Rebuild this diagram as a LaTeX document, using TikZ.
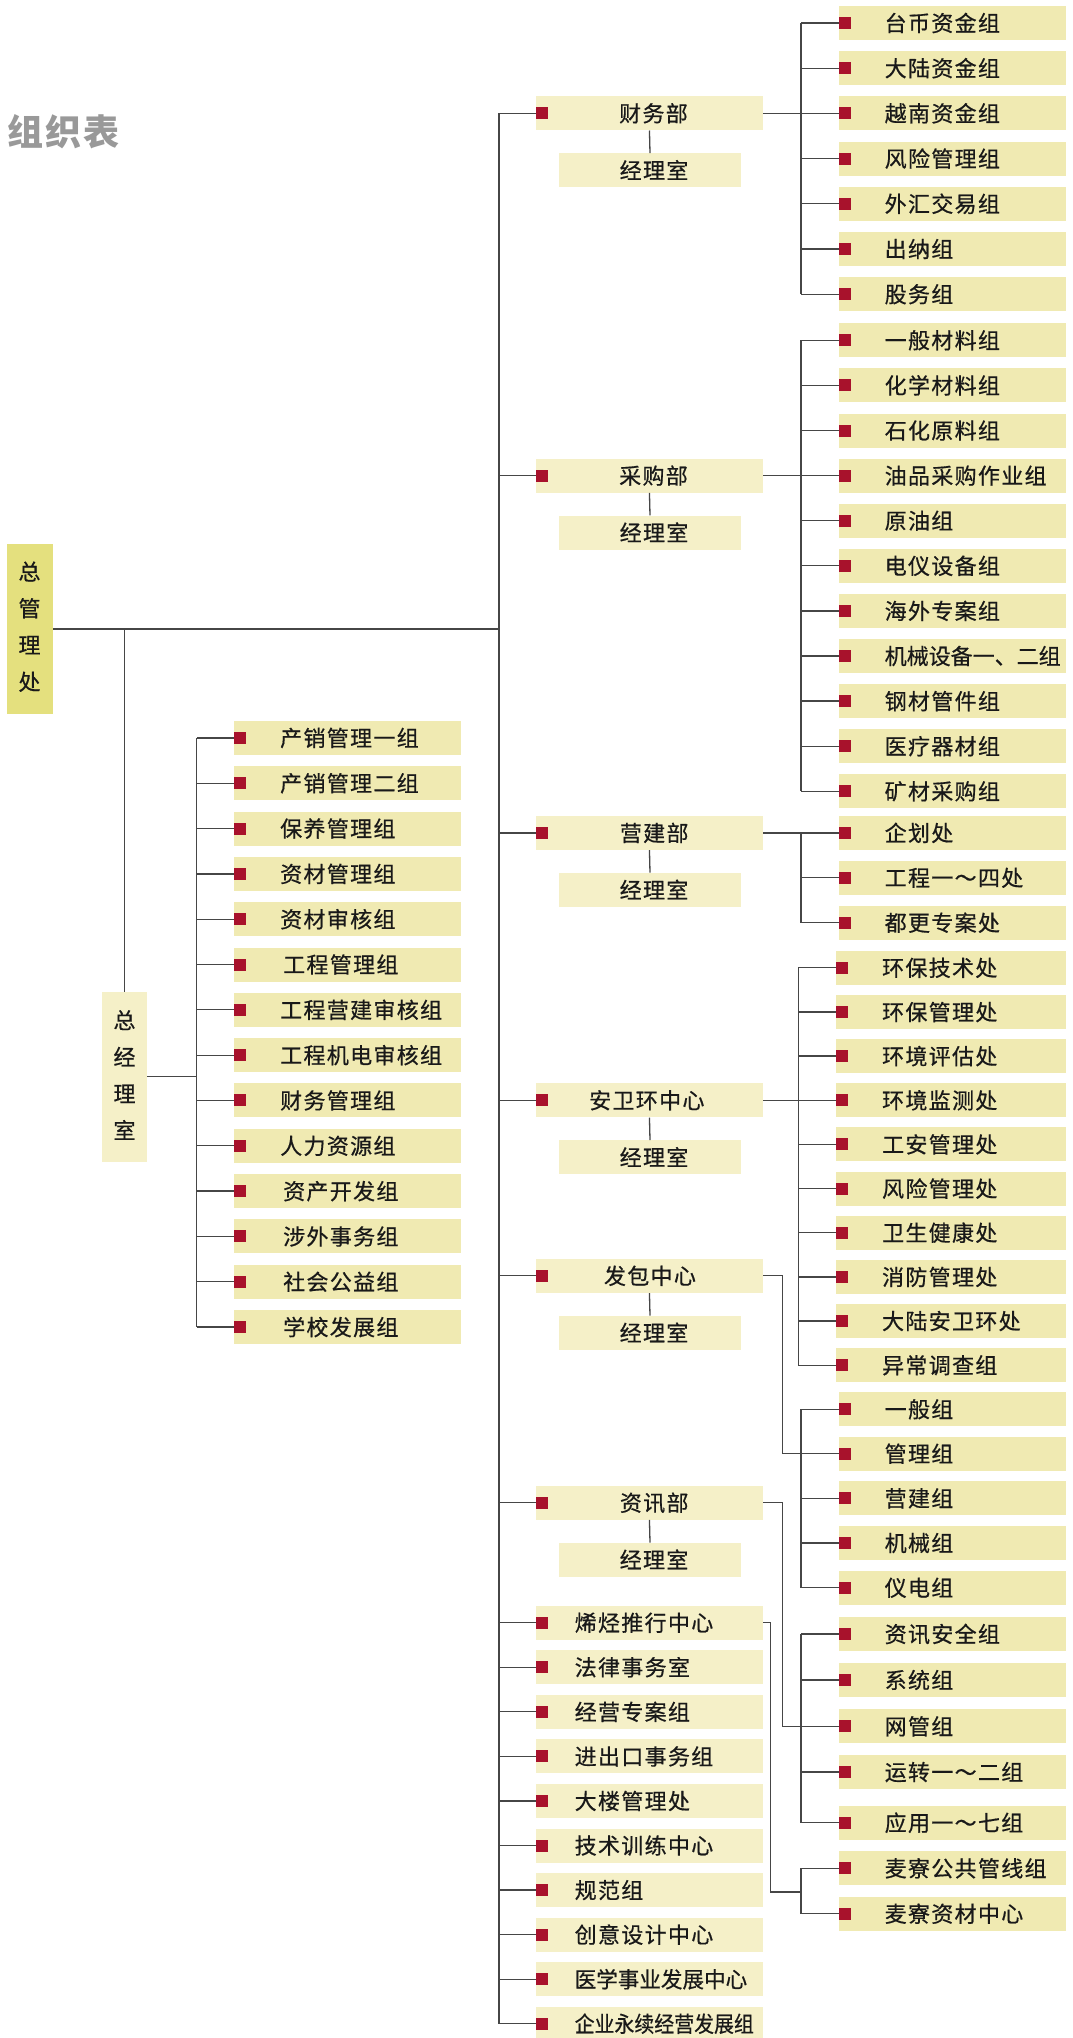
\documentclass[tikz,border=0pt]{standalone}
\usepackage{fontspec}
\usepackage{graphicx}
\newfontfamily\cjk{Noto Sans CJK SC}[LetterSpace=6,FakeBold=0.6]
\newfontfamily\cjkn{Noto Sans CJK SC}[FakeBold=0.6]
\newfontfamily\cjkt{Noto Sans CJK SC}[LetterSpace=5]
\definecolor{deptc}{RGB}{245,240,200}
\definecolor{itemc}{RGB}{240,234,178}
\definecolor{topc}{RGB}{228,224,126}
\definecolor{sqc}{RGB}{168,18,44}
\definecolor{titc}{RGB}{153,153,153}
\definecolor{linec}{RGB}{70,70,70}
\begin{document}
\begin{tikzpicture}[x=1pt,y=-1pt,
  ln/.style={draw=linec, line width=1.3pt},
  dbox/.style={fill=deptc, minimum width=227.5pt, minimum height=34pt, inner sep=0pt, anchor=west},
  sbox/.style={fill=deptc, minimum width=182pt, minimum height=34pt, inner sep=0pt},
  ibox/.style={fill=itemc, minimum width=227.5pt, minimum height=34pt, inner sep=0pt, anchor=west},
  lbox/.style={fill=itemc, minimum width=227pt, minimum height=34pt, inner sep=0pt, anchor=west},
  txt/.style={font=\cjk\fontsize{22}{26}\selectfont, text=black!90, inner sep=0pt, text height=18.3pt, text depth=1.5pt, anchor=west},
  vtxt/.style={font=\cjkn\fontsize{22}{36.7}\selectfont, text=black!90, inner sep=0pt, align=center},
  sq/.style={fill=sqc}]
\useasboundingbox[fill=white] (0,0) rectangle (1073,2038);

% title
\node[font=\cjkt\bfseries\fontsize{36}{40}\selectfont, text=titc, inner sep=0pt, anchor=west] (title) at (7.5,131.5) {组织表};

% top boxes
\node[fill=topc, minimum width=46pt, minimum height=170pt, inner sep=0pt] (zg) at (30,629) {};
\node[vtxt] (zgt) at (29.5,626.7) {总\\管\\理\\处};
\node[fill=deptc, minimum width=45pt, minimum height=170pt, inner sep=0pt] (zj) at (124.5,1076.7) {};
\node[vtxt] (zjt) at (124.5,1075) {总\\经\\理\\室};

% left group
\foreach \n/\t/\dx in {1/产销管理一组/46, 2/产销管理二组/46, 3/保养管理组/46, 4/资材管理组/46, 5/资材审核组/46, 6/工程管理组/49, 7/工程营建审核组/46, 8/工程机电审核组/46, 9/财务管理组/46, 10/人力资源组/46, 11/资产开发组/49, 12/涉外事务组/49, 13/社会公益组/49, 14/学校发展组/49} {
  \pgfmathsetmacro{\yy}{737.9+45.32*(\n-1)}
  \node[lbox] (l\n) at (234,\yy) {};
  \fill[sq] ([yshift=6pt]l\n.west) rectangle ++(12pt,-12pt);
  \node[txt] (lt\n) at ([xshift=\dx pt]l\n.west) {\t};
}

% departments with sub boxes
\foreach \n/\t/\y/\dx in {1/财务部/113.3/83.5, 2/采购部/475.6/83.5, 3/营建部/832.9/84.2, 4/安卫环中心/1100.3/53.5, 5/发包中心/1275.8/68.3, 6/资讯部/1502.7/84.2} {
  \node[dbox] (d\n) at (535.5,\y) {};
  \fill[sq] ([yshift=6pt]d\n.west) rectangle ++(12pt,-12pt);
  \node[txt] (dt\n) at ([xshift=\dx pt]d\n.west) {\t};
  \node[sbox] (s\n) at (650,\y+57) {};
  \node[txt] (st\n) at (619.5,\y+57) {经理室};
  \draw[ln] (d\n.south) -- (s\n.north);
}

% bottom list
\foreach \n/\t in {7/烯烃推行中心, 8/法律事务室, 9/经营专案组, 10/进出口事务组, 11/大楼管理处, 12/技术训练中心, 13/规范组, 14/创意设计中心} {
  \pgfmathsetmacro{\yy}{1622.7+44.56*(\n-7)}
  \node[dbox] (d\n) at (535.5,\yy) {};
  \fill[sq] ([yshift=6pt]d\n.west) rectangle ++(12pt,-12pt);
  \node[txt] (dt\n) at ([xshift=39pt]d\n.west) {\t};
}
\node[dbox] (d15) at (535.5,1979.2) {};
\fill[sq] ([yshift=6pt]d15.west) rectangle ++(12pt,-12pt);
\node[txt, font=\cjkn\fontsize{22}{26}\selectfont] (dt15) at ([xshift=39pt]d15.west) {\scalebox{0.98}[1]{医学事业发展中心}};
\node[dbox] (d16) at (535.5,2023.7) {};
\fill[sq] ([yshift=6pt]d16.west) rectangle ++(12pt,-12pt);
\node[txt, font=\cjkn\fontsize{22}{26}\selectfont] (dt16) at ([xshift=39pt]d16.west) {\scalebox{0.905}[1]{企业永续经营发展组}};

% right column
\foreach \n/\t/\y/\x in {1/台币资金组/23.0/838.5, 2/大陆资金组/68.2/838.5, 3/越南资金组/113.3/838.5, 4/风险管理组/158.6/838.5, 5/外汇交易组/203.8/838.5, 6/出纳组/249.0/838.5, 7/股务组/294.2/838.5,
  8/一般材料组/340.3/838.5, 9/化学材料组/385.4/838.5, 10/石化原料组/430.5/838.5, 11/油品采购作业组/475.6/838.5, 12/原油组/520.7/838.5, 13/电仪设备组/565.8/838.5, 14/海外专案组/610.9/838.5, 16/钢材管件组/701.1/838.5, 17/医疗器材组/746.2/838.5, 18/矿材采购组/791.3/838.5,
  19/企划处/832.9/838.5, 20/工程一～四处/877.7/838.5, 21/都更专案处/922.7/838.5,
  22/环保技术处/967.8/835.9, 23/环保管理处/1012.0/835.9, 24/环境评估处/1056.1/835.9, 25/环境监测处/1100.3/835.9, 26/工安管理处/1144.4/835.9, 27/风险管理处/1188.6/835.9, 28/卫生健康处/1232.7/835.9, 29/消防管理处/1276.9/835.9, 30/大陆安卫环处/1321.0/835.9, 31/异常调查组/1365.2/835.9,
  32/一般组/1409.3/838.5, 33/管理组/1453.7/838.5, 34/营建组/1498.3/838.5, 35/机械组/1543.0/838.5, 36/仪电组/1587.7/838.5,
  37/资讯安全组/1634.0/838.5, 38/系统组/1680.0/838.5, 39/网管组/1726.3/838.5, 40/运转一～二组/1772.0/838.5, 41/应用一～七组/1822.7/838.5,
  42/麦寮公共管线组/1868.3/838.5, 43/麦寮资材中心/1913.7/838.5} {
  \node[ibox, minimum width={1066pt-\x pt}] (r\n) at (\x,\y) {};
  \fill[sq] ([yshift=6pt]r\n.west) rectangle ++(12pt,-12pt);
  \node[txt] (rt\n) at ([xshift=46pt]r\n.west) {\t};
}
\node[ibox] (r15) at (838.5,656.0) {};
\fill[sq] ([yshift=6pt]r15.west) rectangle ++(12pt,-12pt);
\node[txt, font=\cjkn\fontsize{22}{26}\selectfont] (rt15) at ([xshift=46pt]r15.west) {机械设备一、二组};

% connectors: main structure
\coordinate (tk) at (499,113.3);
\coordinate (gx) at (801,0);
\coordinate (gy) at (798.3,0);
\coordinate (lx) at (196.7,0);
\draw[ln] (zg.east |- 0,629) -- (tk |- 0,629);
\draw[ln] (zj.north) -- (zj.north |- 0,629);
\draw[ln] (d1.west) -- (tk) -- (tk |- d16.west) -- (d16.west);
\foreach \n in {2,...,15} {\draw[ln] (d\n.west) -- (d\n.west -| tk);}
\draw[ln] (zj.east) -- (zj.east -| lx);
\draw[ln] (l1.west -| lx) -- (l14.west -| lx);
\foreach \n in {1,...,14} {\draw[ln] (l\n.west) -- (l\n.west -| lx);}

% right groups
\foreach \a/\b in {1/7, 8/18, 19/21, 32/36, 37/41, 42/43} {\draw[ln] (r\a.west -| gx) -- (r\b.west -| gx);}
\draw[ln] (r22.west -| gy) -- (r31.west -| gy);
\foreach \n in {1,...,21,32,33,34,35,36,37,38,39,40,41,42,43} {\draw[ln] (r\n.west) -- (r\n.west -| gx);}
\foreach \n in {22,...,31} {\draw[ln] (r\n.west) -- (r\n.west -| gy);}

\draw[ln] (d1.east) -- (r3.west);
\draw[ln] (d2.east) -- (r11.west);
\draw[ln] (d3.east) -- (r19.west);
\draw[ln] (d4.east) -- (r25.west);
\draw[ln] (d5.east) -- ++(18.8pt,0) |- (r33.west);
\draw[ln] (d6.east) -- ++(18.8pt,0) |- (r39.west);
\coordinate (m7) at (801,1892);
\draw[ln] (d7.east) -- ++(7pt,0) |- (m7);
\end{tikzpicture}
\end{document}
